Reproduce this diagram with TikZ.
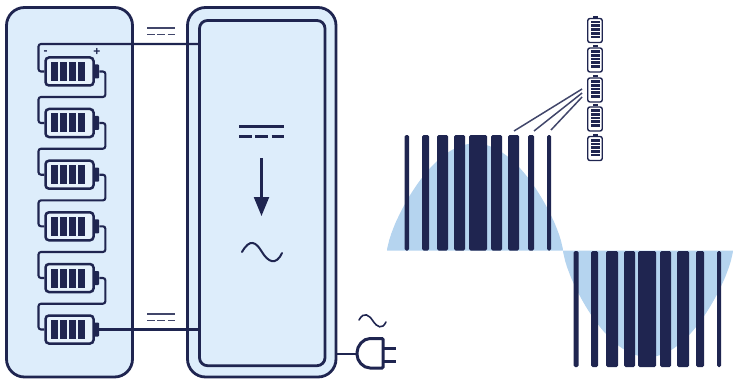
\documentclass[tikz,border=0pt]{standalone}
\usepackage{fontspec}
\setmainfont{Liberation Sans}
\usetikzlibrary{arrows.meta,calc}
\definecolor{ink}{HTML}{1F2550}
\definecolor{panel}{HTML}{DDEDFB}
\definecolor{wave}{HTML}{B5D4EF}
\tikzset{
  panelbox/.style={draw=ink,fill=panel,line width=2.8pt,rounded corners=#1,inner sep=0pt,outer sep=0pt,anchor=north west},
  batbody/.style={draw=ink,fill=white!30!panel,line width=2.5pt,rounded corners=3.5pt,minimum width=48pt,minimum height=28pt,inner sep=0pt},
  batterm/.style={fill=ink,rounded corners=1pt,minimum width=5pt,minimum height=14pt,inner sep=0pt,anchor=west},
  wire/.style={draw=ink,line width=2.1pt,rounded corners=2.5pt},
  cell/.style={fill=ink},
  pulse/.style={fill=ink,rounded corners=1.5pt},
  dcline/.style={draw=ink!85,line width=1.9pt},
  dcdash/.style={draw=ink!85,line width=1.9pt,dash pattern=on 7.5pt off 2.8pt},
  sbat/.style={draw=ink,fill=white,line width=1.4pt,rounded corners=2.2pt,minimum width=14.5pt,minimum height=24pt,inner sep=0pt},
  lead/.style={draw=ink!85,line width=1.5pt},
  pm/.style={text=ink,font=\fontsize{12}{12}\selectfont\bfseries,inner sep=0pt}
}
\begin{document}
\begin{tikzpicture}[x=1pt,y=-1pt]
\useasboundingbox (0,0) rectangle (733,385);
% waves
\begin{scope}
\clip (0,0) rectangle (733,385);
\fill[wave] (387,250.5) -- plot[domain=387.3:562.7,samples=90] (\x,{250.5-107*pow(sin((\x-387)/176*180),0.72)}) -- (563,250.5) -- cycle;
\fill[wave] (563,250.5) -- plot[domain=563.3:732.7,samples=90] (\x,{250.5+106.5*pow(sin((\x-563)/170*180),0.72)}) -- (733,250.5) -- cycle;
\end{scope}
% pulses
\foreach \a/\b in {404.7/409,422/429,437/448,454/465,469/487,491/502,508/519,528/534,547/551}
  \path[pulse] (\a,135) rectangle (\b,250.5);
\foreach \a/\b in {573.5/578.5,591/598,606/618,624/635,638/656,660/671,677/689,696/704,717/721}
  \path[pulse] (\a,251) rectangle (\b,367);
% panels
\node[panelbox=18pt,minimum width=126pt,minimum height=369.5pt] (pack) at (6.5,7.5) {};
\node[panelbox=18pt,minimum width=148.5pt,minimum height=369.5pt] (outer) at (187.5,7.5) {};
\node[panelbox=8pt,minimum width=125.5pt,minimum height=345.2pt] (inner) at (199.5,20.5) {};
% batteries
\foreach \i/\y in {1/71.5,2/123,3/174.7,4/226.3,5/278,6/329.5}{
  \node[batbody] (b\i) at (69.5,\y) {};
  \node[batterm] (t\i) at (94,\y) {};
  \foreach \k in {0,1,2,3}
    \path[cell] ($(b\i.west)+(7+9*\k,-9.5)$) rectangle ($(b\i.west)+(14+9*\k,9.5)$);
}
% wires
\coordinate (topwire) at (38.5,44);
\draw[wire] (b1.west) -- (topwire |- b1.west) -- (topwire) -- (topwire -| inner.west);
\foreach \i/\j/\m in {1/2/97,2/3/148.7,3/4/200.4,4/5/252,5/6/303.7}{
  \draw[wire] (t\i.east) -- ++(6,0) |- (38.5,\m) |- (b\j.west);
}
\draw[wire] (t6.east) -- (t6.east -| inner.west);
% polarity
\node[pm] (minus) at (45.5,52.5) {-};
\node[pm] (plus) at (97,52) {+};
% DC marks
\foreach \y in {28,314}{
  \path[dcline] (147,\y) -- (175,\y);
  \path[dcdash] (147,\y+6.5) -- (175,\y+6.5);
}
\path[draw=ink,line width=2.2pt] (239,126.5) -- (284,126.5);
\path[draw=ink,line width=2.2pt,dash pattern=on 12.5pt off 3.8pt] (239,136.5) -- (284,136.5);
% converter arrow
\coordinate (arrowstart) at (261.5,158);
\coordinate (arrowend) at (261.5,216);
\draw[draw=ink,line width=2.2pt,-{Triangle[length=19pt,width=15pt]}] (arrowstart) -- (arrowend);
% tildes
\draw[ink,line width=2pt,line cap=round] (242,252) .. controls (250,238) and (256,242) .. (262,252) .. controls (268,262) and (276,266) .. (282,253);
\draw[ink,line width=1.6pt,line cap=round] (359,320) .. controls (364,311) and (369,315) .. (373,321) .. controls (377,327) and (382,330) .. (386,322);
% plug
\coordinate (plugin) at (357,354);
\draw[ink,line width=2.6pt] (outer.east |- plugin) -- (plugin);
\draw[ink,line width=3pt,fill=white,rounded corners=1pt] (383,338.5) -- (371,338.5) .. controls (363,338.5) and (357,346) .. (357,353.5) .. controls (357,361) and (363,368) .. (371,368) -- (383,368) -- cycle;
\draw[ink,line width=3pt] (383,348) -- (396,348) (383,361) -- (396,361);
% small batteries
\foreach \i/\y in {1/30.5,2/60,3/90,4/119,5/148.5}{
  \node[sbat] (s\i) at (595,\y) {};
  \path[fill=ink] ($(s\i.north)+(-2.5,-2.2)$) rectangle ($(s\i.north)+(2.5,0)$);
  \foreach \k in {0,1,2,3,4}
    \path[fill=ink] ($(s\i.north)+(-4.5,3+3.7*\k)$) rectangle ($(s\i.north)+(4.5,5.7+3.7*\k)$);
}
% leaders
\coordinate (la) at (514,131);
\coordinate (lb) at (534,131);
\coordinate (lc) at (551,130);
\draw[lead] ($(s3.west)+(-5,-1)$) -- (la);
\draw[lead] ($(s3.west)+(-5,3)$) -- (lb);
\draw[lead] ($(s3.west)+(-5,7)$) -- (lc);
\end{tikzpicture}
\end{document}
